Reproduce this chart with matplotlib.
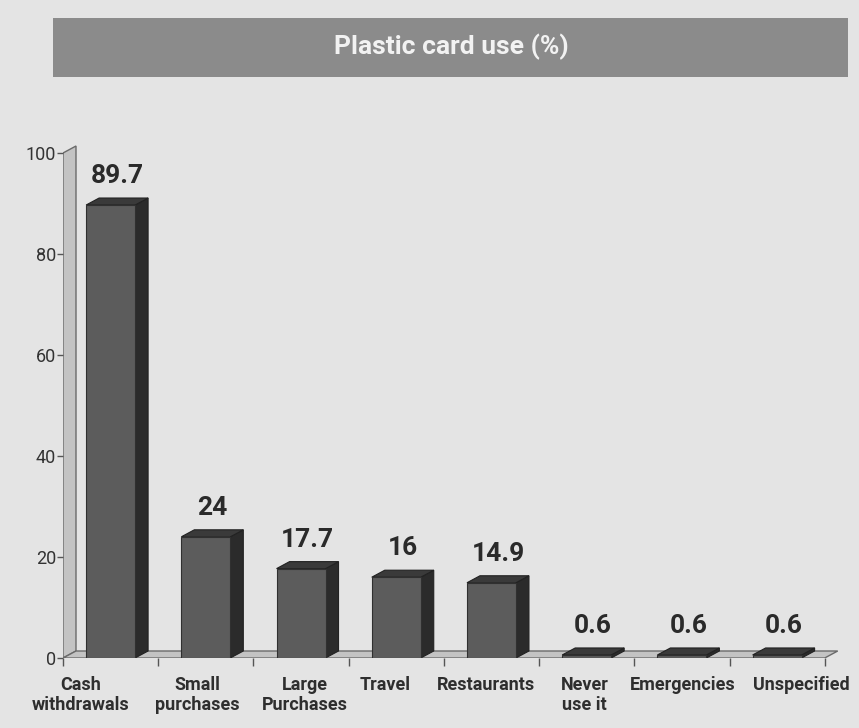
import matplotlib
matplotlib.use('Agg')
import matplotlib.pyplot as plt
from matplotlib.patches import Polygon, Rectangle
import matplotlib.transforms as mtransforms

categories = ['Cash\nwithdrawals', 'Small\npurchases', 'Large\nPurchases', 'Travel',
              'Restaurants', 'Never\nuse it', 'Emergencies', 'Unspecified']
values = [89.7, 24, 17.7, 16, 14.9, 0.6, 0.6, 0.6]
value_labels = ['89.7', '24', '17.7', '16', '14.9', '0.6', '0.6', '0.6']
yticks = [0, 20, 40, 60, 80, 100]
title = 'Plastic card use (%)'

FONT = ['Roboto', 'DejaVu Sans']
plt.rcParams['font.family'] = FONT

W, H = 859, 728
fig = plt.figure(figsize=(W / 100, H / 100), dpi=100)
fig.patch.set_facecolor('#e4e4e4')

ppu = 5.05  # pixels per y-unit
ax = fig.add_axes([63 / W, (H - 658) / H, 776 / W, (103 * ppu) / H])
ax.set_xlim(-0.5, 7.65)
ax.set_ylim(0, 103)
ax.set_facecolor('none')
for s in ax.spines.values():
    s.set_visible(False)

dx = 13 / 95.25
dy = 7 / ppu
bw = 49 / 95.25
n = len(values)

# back wall and floor
wall = Polygon([(-0.5, 0), (-0.5, 100), (-0.5 + dx, 100 + dy), (-0.5 + dx, dy)],
               closed=True, facecolor='#c3c3c3', edgecolor='#6a6a6a', lw=1.0, zorder=1)
ax.add_patch(wall)
floor = Polygon([(-0.5, 0), (n - 0.5, 0), (n - 0.5 + dx, dy), (-0.5 + dx, dy)],
                closed=True, facecolor='#c3c3c3', edgecolor='#6a6a6a', lw=1.0, zorder=1)
ax.add_patch(floor)

for i, v in enumerate(values):
    x0 = i - bw / 2
    x1 = i + bw / 2
    side = Polygon([(x1, 0), (x1 + dx, dy), (x1 + dx, v + dy), (x1, v)], closed=True,
                   facecolor='#2b2b2b', edgecolor='#222222', lw=0.8, zorder=3)
    top = Polygon([(x0, v), (x1, v), (x1 + dx, v + dy), (x0 + dx, v + dy)], closed=True,
                  facecolor='#3a3a3a', edgecolor='#222222', lw=0.8, zorder=3)
    front = Rectangle((x0, 0), bw, v, facecolor='#5c5c5c', edgecolor='#303030', lw=0.8, zorder=4)
    ax.add_patch(side)
    ax.add_patch(top)
    ax.add_patch(front)
    ax.annotate(value_labels[i], (i + dx / 2, v + dy), xytext=(0, 7), textcoords='offset points',
                ha='center', va='bottom', fontsize=19, fontweight='bold', color='#2a2a2a', zorder=5)

# y axis
ax.set_yticks(yticks)
ax.tick_params(axis='y', length=4, width=1, color='#555555', direction='out', pad=1,
               labelsize=13, labelcolor='#333333')

# x axis: boundary ticks + category labels
ax.set_xticks([i - 0.5 for i in range(n + 1)], minor=True)
ax.set_xticks(range(n))
ax.set_xticklabels(categories, fontsize=13, fontweight='bold', color='#2e2e2e', linespacing=1.15)
ax.tick_params(axis='x', which='major', length=0, pad=13)
ax.tick_params(axis='x', which='minor', length=6, width=1, color='#555555', direction='out')

label_shift_px = [-30, -9, 4, -11, -5, -2, 1, 24]
for lab, sh in zip(ax.get_xticklabels(), label_shift_px):
    lab.set_transform(lab.get_transform() + mtransforms.ScaledTranslation(sh / 100, 0, fig.dpi_scale_trans))

# title banner
banner = Rectangle((53 / W, 1 - 77 / H), 795 / W, 59 / H, transform=fig.transFigure,
                   facecolor='#8b8b8b', edgecolor='none', zorder=0)
fig.add_artist(banner)
fig.text(451 / W, 1 - 47 / H, title, ha='center', va='center', fontsize=19,
         fontweight='bold', color='#f2f2f2')

fig.savefig('out.png', dpi=100, facecolor=fig.get_facecolor())
